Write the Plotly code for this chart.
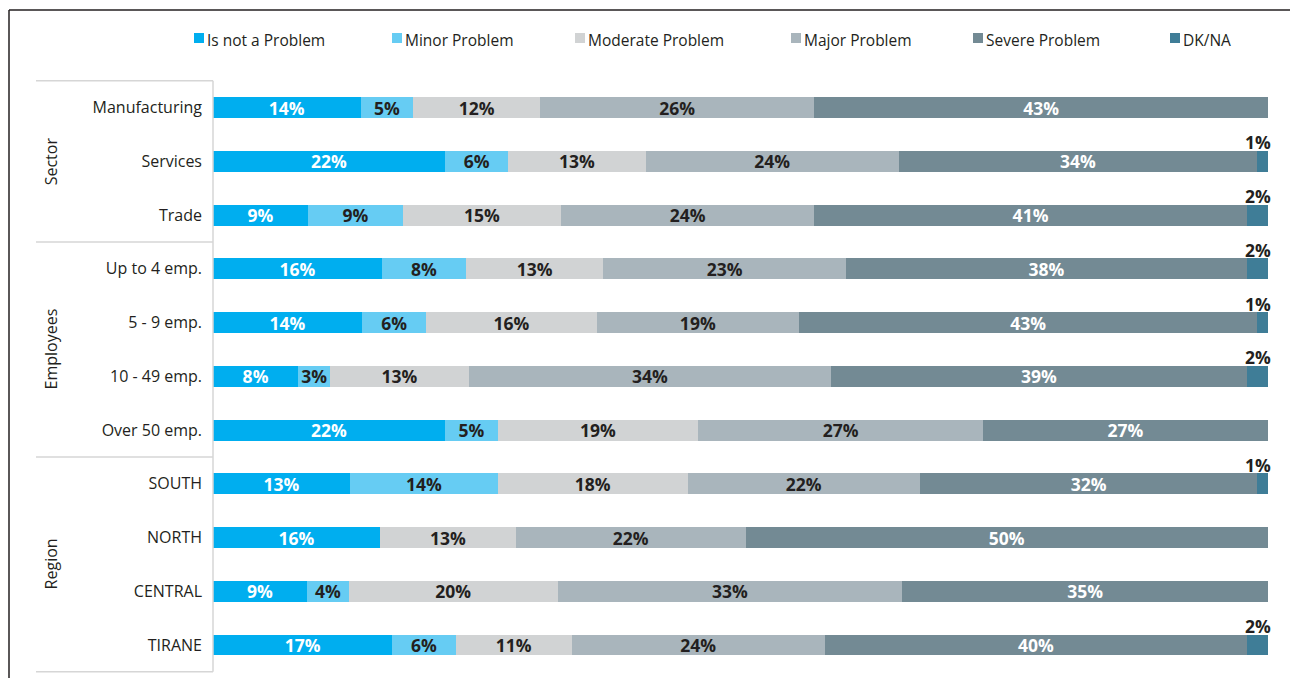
import plotly.graph_objects as go

# ---- data -------------------------------------------------------------
categories = ["Manufacturing", "Services", "Trade",
              "Up to 4 emp.", "5 - 9 emp.", "10 - 49 emp.", "Over 50 emp.",
              "SOUTH", "NORTH", "CENTRAL", "TIRANE"]

groups = ["Sector", "Employees", "Region"]
group_members = [categories[0:3], categories[3:7], categories[7:11]]

series_names = ["Is not a Problem", "Minor Problem", "Moderate Problem",
                "Major Problem", "Severe Problem", "DK/NA"]

not_problem = [14, 22, 9, 16, 14, 8, 22, 13, 16, 9, 17]
minor       = [5, 6, 9, 8, 6, 3, 5, 14, 0, 4, 6]
moderate    = [12, 13, 15, 13, 16, 13, 19, 18, 13, 20, 11]
major       = [26, 24, 24, 23, 19, 34, 27, 22, 22, 33, 24]
severe      = [43, 34, 41, 38, 43, 39, 27, 32, 50, 35, 40]
dk_na       = [0, 1, 2, 2, 1, 2, 0, 1, 0, 0, 2]

series_values = [not_problem, minor, moderate, major, severe, dk_na]

# ---- styling ----------------------------------------------------------
colors = ["#00AEEF", "#66CCF3", "#D1D3D4", "#A9B5BC", "#738A94", "#3F7D97"]
label_colors = ["#FFFFFF", "#231F20", "#231F20", "#231F20", "#FFFFFF", "#231F20"]
FONT = "Open Sans"
DARK = "#231F20"
RULE = "#D6D6D6"

W, H = 1290, 678
ML, MR, MT, MB = 213, 22, 80, 0
PW, PH = W - ML - MR, H - MT - MB


def px_x(px):
    return (px - ML) / PW


def px_y(py):
    return (H - MB - py) / PH


fig = go.Figure()

for name, vals, col, tcol in zip(series_names, series_values, colors, label_colors):
    show_text = name != "DK/NA"
    fig.add_trace(go.Bar(
        name=name,
        y=categories,
        x=vals,
        orientation="h",
        marker=dict(color=col, line=dict(width=0)),
        text=[f"{v}%" if (v and show_text) else "" for v in vals],
        textposition="inside",
        insidetextanchor="middle",
        textangle=0,
        textfont=dict(family=FONT, size=17.5, color=tcol, weight="bold"),
        showlegend=False,
        hoverinfo="skip",
    ))

annotations = []
shapes = []

# DK/NA values sit above the end of each bar
for cat, v in zip(categories, dk_na):
    if v:
        annotations.append(dict(
            x=100, y=cat, xref="x", yref="y", text=f"{v}%",
            showarrow=False, xanchor="right", yanchor="middle",
            xshift=5, yshift=19,
            font=dict(family=FONT, size=17.5, color=DARK, weight="bold"),
        ))

# group labels and separators in the left-hand table
for g, members in zip(groups, group_members):
    mid = (categories.index(members[0]) + categories.index(members[-1])) / 2
    annotations.append(dict(
        x=px_x(51), y=mid, xref="paper", yref="y", text=g, textangle=-90,
        showarrow=False, xanchor="center", yanchor="middle",
        font=dict(family=FONT, size=16, color=DARK),
    ))

bounds = [-0.5, 2.5, 6.5, 10.5]
for b in bounds:
    shapes.append(dict(type="line", xref="paper", yref="y",
                       x0=px_x(36), x1=0, y0=b, y1=b,
                       line=dict(color=RULE, width=1.5)))
shapes.append(dict(type="line", xref="paper", yref="y",
                   x0=0, x1=0, y0=-0.5, y1=10.5,
                   line=dict(color=RULE, width=1.5)))

# outer frame (top and left rules)
shapes.append(dict(type="line", xref="paper", yref="paper",
                   x0=px_x(9), x1=px_x(W + 5), y0=px_y(10), y1=px_y(10),
                   line=dict(color=DARK, width=1.5)))
shapes.append(dict(type="line", xref="paper", yref="paper",
                   x0=px_x(9), x1=px_x(9), y0=px_y(10), y1=px_y(H + 5),
                   line=dict(color=DARK, width=1.5)))

# legend row: coloured squares followed by labels
legend_left = [194, 392, 575, 791, 973, 1170]
for name, col, lx in zip(series_names, colors, legend_left):
    shapes.append(dict(type="rect", xref="paper", yref="paper",
                       x0=px_x(lx), x1=px_x(lx + 10),
                       y0=px_y(43), y1=px_y(33),
                       fillcolor=col, line=dict(width=0)))
    annotations.append(dict(
        x=px_x(lx + 11), y=px_y(40), xref="paper", yref="paper", text=name,
        showarrow=False, xanchor="left", yanchor="middle",
        font=dict(family=FONT, size=15.5, color=DARK),
    ))

fig.update_layout(
    width=W, height=H,
    margin=dict(l=ML, r=MR, t=MT, b=MB, pad=0),
    paper_bgcolor="white", plot_bgcolor="white",
    barmode="stack", barnorm="percent", bargap=0.61,
    uniformtext=dict(minsize=17.5, mode="show"),
    font=dict(family=FONT, color=DARK),
    showlegend=False,
    xaxis=dict(range=[0, 100], visible=False, fixedrange=True),
    yaxis=dict(
        categoryorder="array", categoryarray=categories,
        autorange="reversed", showgrid=False, zeroline=False, showline=False,
        ticks="", ticklabelstandoff=10,
        tickfont=dict(family=FONT, size=16, color=DARK),
        fixedrange=True,
    ),
    annotations=annotations,
    shapes=shapes,
)

fig.write_html("out.html")
